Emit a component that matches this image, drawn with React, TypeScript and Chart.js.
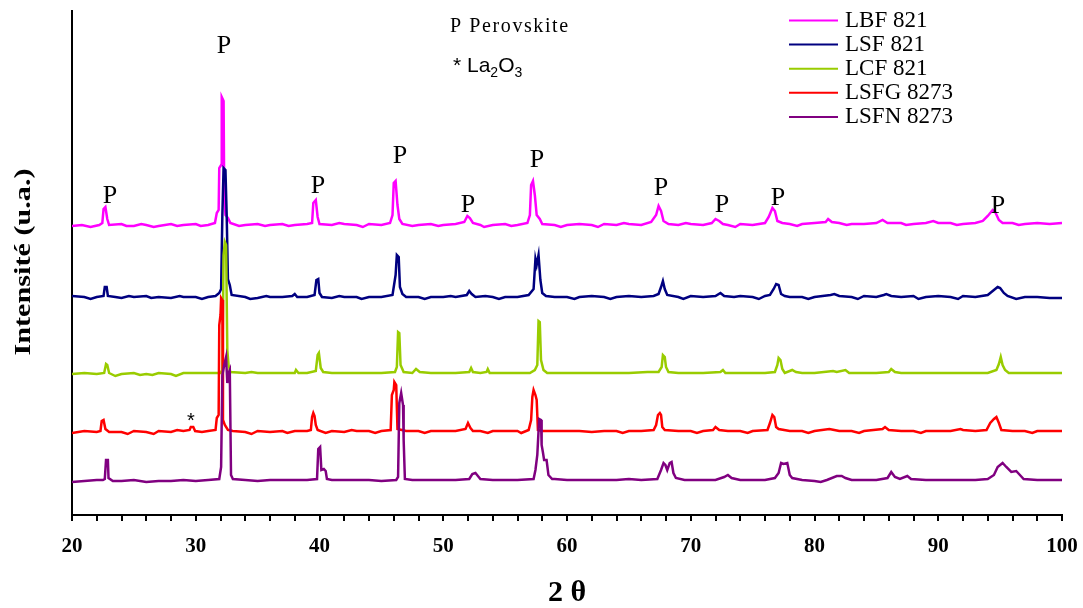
import React, { useEffect, useRef } from 'react';
import { Chart, registerables } from 'chart.js';

Chart.register(...registerables);

const SERIF = '"Liberation Serif", "Times New Roman", Times, serif';
const SANS = '"Liberation Sans", Arial, Helvetica, sans-serif';

const seriesNames = ['LBF 821', 'LSF 821', 'LCF 821', 'LSFG 8273', 'LSFN 8273'];
const seriesColors = ['#ff00ff', '#000080', '#99cc00', '#ff0000', '#800080'];

const xTickValues = [20, 22, 24, 26, 28, 30, 32, 34, 36, 38, 40, 42, 44, 46, 48, 50, 52, 54, 56, 58, 60,
  62, 64, 66, 68, 70, 72, 74, 76, 78, 80, 82, 84, 86, 88, 90, 92, 94, 96, 98, 100];

// [2θ, intensity (arbitrary units, stacked offsets)]
const lbf: [number, number][] = [
  [20, 289], [20.8, 290], [21.5, 288], [22.2, 290], [22.45, 292], [22.55, 306], [22.7, 308], [22.85, 296], [23, 290],
  [24, 291], [24.4, 289], [25, 289], [25.6, 291], [26, 290], [26.6, 288], [27, 289], [28, 291], [28.5, 289], [29, 290],
  [30, 291], [30.4, 289], [31, 290], [31.55, 292],
  [31.7, 302], [31.85, 305], [31.9, 347], [32.05, 350], [32.1, 418], [32.25, 414], [32.3, 320], [32.4, 300], [32.6, 297],
  [32.8, 292], [33.5, 289], [34, 290], [35, 291], [35.6, 289], [36, 290], [37, 291], [37.5, 289], [38, 290], [39, 291],
  [39.4, 292], [39.5, 312], [39.7, 315],
  [39.85, 298], [40, 291], [41, 290], [41.6, 292], [42, 291], [43, 290], [43.5, 288], [44, 291], [45, 290], [45.7, 292],
  [45.9, 300], [46.0, 332],
  [46.15, 334], [46.3, 310], [46.45, 296], [46.7, 291], [47.5, 289], [48, 290], [49, 291], [49.6, 289], [50, 290],
  [51, 291], [51.7, 293],
  [51.95, 299], [52.15, 297], [52.4, 292], [53, 290], [53.3, 288], [54, 290], [55, 291], [55.5, 289], [56, 290],
  [56.8, 292], [57.0, 300],
  [57.1, 330], [57.25, 334], [57.4, 320], [57.55, 300], [57.8, 296], [58.0, 291], [59, 290], [59.5, 288], [60, 290],
  [61, 291], [62, 290], [62.5, 288], [63, 291], [64, 290], [64.6, 292], [65, 291], [66, 290], [66.8, 293], [67.2, 300],
  [67.4, 309], [67.6, 304], [67.8, 294],
  [68.2, 291], [69, 290], [69.6, 292], [70, 291], [71, 290], [71.7, 292], [72.0, 296], [72.3, 294], [72.6, 291],
  [73, 290], [73.6, 288], [74, 291],
  [75, 290], [76, 292], [76.3, 298], [76.6, 307], [76.8, 304], [77.0, 294], [77.4, 292], [78, 291], [78.6, 289],
  [79, 291], [80, 292],
  [80.9, 293], [81.1, 296], [81.4, 293], [82, 292], [82.6, 290], [83, 291], [84, 291], [85, 292], [85.5, 295],
  [85.9, 292], [87, 292], [87.4, 290],
  [88, 291], [89, 292], [89.6, 294], [90, 292], [91, 292], [91.5, 290], [92, 291], [93, 292], [93.6, 294], [94.0, 299],
  [94.4, 305],
  [94.6, 303], [94.9, 295], [95.2, 292], [96, 292], [96.5, 290], [97, 291], [98, 292], [99, 291], [100, 292],
];

const lsf: [number, number][] = [
  [20, 219], [21, 218], [21.5, 216], [22, 218], [22.55, 219], [22.65, 228], [22.8, 228], [22.9, 219], [23.5, 218],
  [24, 217], [24.6, 219],
  [25, 218], [26, 219], [26.4, 217], [27, 218], [28, 217], [28.7, 219], [29, 218], [30, 218], [30.5, 216], [31, 218],
  [31.6, 219], [31.9, 222], [32.05, 226],
  [32.15, 300], [32.25, 347], [32.4, 345], [32.5, 300], [32.6, 236], [32.75, 230], [32.9, 220], [34, 218], [34.4, 216],
  [35, 217], [35.7, 219],
  [36, 218], [37, 218], [37.8, 219], [38, 221], [38.2, 218], [39, 218], [39.6, 220], [39.75, 235], [39.9, 236],
  [40.0, 222], [40.2, 218], [41, 217], [41.6, 219], [42, 218], [43, 218], [43.4, 216], [44, 218], [45, 218],
  [45.9, 220], [46.15, 240],
  [46.25, 260], [46.4, 258], [46.5, 228], [46.7, 221], [47, 218], [48, 218], [48.5, 216], [49, 218], [50, 218],
  [50.6, 219], [51, 218],
  [51.9, 220], [52.1, 224], [52.3, 221], [52.6, 218], [53.4, 219], [54, 218], [54.5, 216], [55, 218], [56, 218],
  [56.9, 220],
  [57.3, 226], [57.45, 256], [57.55, 250], [57.7, 260], [57.85, 235], [58.0, 222], [58.3, 219], [59, 218], [60, 218],
  [60.6, 216],
  [61, 218], [62, 219], [63, 218], [63.5, 216], [64, 218], [65, 219], [66, 218], [67, 219], [67.4, 221], [67.6, 228],
  [67.75, 234],
  [67.9, 226], [68.1, 220], [69, 218], [69.4, 216], [70, 219], [71, 218], [72, 219], [72.4, 222], [72.7, 219],
  [73.5, 218],
  [74, 219], [75, 218], [75.5, 216], [76, 219], [76.4, 220], [76.7, 226], [76.9, 231], [77.1, 230], [77.3, 221],
  [77.6, 219],
  [78, 218], [79, 218], [79.5, 216], [80, 218], [81.3, 220], [81.6, 221], [82, 219], [83, 218], [83.5, 216], [84, 219],
  [85, 218], [85.6, 220],
  [85.8, 221], [86.2, 219], [87, 218], [88, 219], [88.4, 216], [89, 218], [90, 219], [91, 218], [91.6, 216], [92, 219],
  [93, 218], [94.0, 220],
  [94.4, 224], [94.8, 228], [95.0, 227], [95.3, 222], [95.6, 219], [96.3, 216], [97, 218], [98, 218], [99, 217],
  [100, 217],
];

const lcf: [number, number][] = [
  [20, 141], [21, 142], [22, 141], [22.6, 142], [22.75, 151], [22.85, 150], [23.0, 142], [23.5, 139], [24, 141],
  [25, 142], [25.5, 140], [26, 141], [26.5, 140], [27, 142], [28, 141], [28.4, 139], [29, 142], [30, 142], [31, 142],
  [32.0, 142], [32.15, 145],
  [32.25, 260], [32.35, 273], [32.45, 270], [32.55, 165], [32.65, 150], [32.8, 143], [34, 142], [34.5, 143], [35, 142],
  [36, 142], [37, 142], [38.0, 142], [38.1, 145], [38.3, 142], [39, 142], [39.7, 144], [39.85, 160], [39.95, 162],
  [40.1, 147], [40.3, 143], [41, 142], [42, 142], [43, 142], [44, 142], [45, 142], [46.1, 143], [46.25, 148],
  [46.35, 183], [46.45, 182], [46.55, 150], [46.8, 143], [47.5, 142], [47.8, 146], [48.1, 143], [49, 142], [50, 142],
  [51, 142], [52.1, 143], [52.25, 147], [52.4, 143], [53, 142], [53.5, 143], [53.6, 146], [53.75, 142], [55, 142],
  [56, 142], [57.0, 142], [57.4, 145], [57.6, 150], [57.7, 194], [57.8, 193], [57.9, 155], [58.1, 145], [58.4, 142],
  [59, 142], [60, 142], [61, 142], [62, 142], [63, 142], [64, 142], [65, 142], [66.5, 143], [67.4, 143], [67.65, 148],
  [67.75, 160], [67.9, 158], [68.0, 148], [68.2, 143], [69, 142], [70, 142], [71, 142], [72.4, 143], [72.6, 145],
  [72.8, 142], [74, 142], [75, 142], [76, 142], [76.8, 143], [77.0, 150], [77.1, 157], [77.25, 155], [77.4, 146],
  [77.6, 142], [78.2, 145], [78.5, 143], [79, 142], [80, 142], [81.5, 144], [81.8, 143], [82.5, 145], [82.8, 142],
  [84, 142], [85, 142], [86.0, 143], [86.2, 146], [86.5, 143], [87, 142], [88, 142], [89, 142], [90, 142], [91, 142],
  [92, 142], [93, 142], [94.0, 142], [94.7, 145], [94.9, 151], [95.05, 158], [95.2, 150], [95.4, 145], [95.7, 142],
  [97, 142], [98, 142], [99, 142], [100, 142],
];

const lsfg: [number, number][] = [
  [20, 82], [21, 84], [22, 83], [22.3, 84], [22.4, 94], [22.55, 95], [22.7, 86], [23, 83], [24, 83], [24.5, 81],
  [25, 84], [26, 83], [26.6, 81],
  [27, 84], [28, 83], [28.5, 85], [29, 84], [29.5, 85], [29.6, 88], [29.8, 88], [29.95, 84], [30.5, 83], [31, 84],
  [31.6, 85],
  [31.7, 97], [31.85, 100], [31.9, 190], [32.0, 200], [32.05, 217], [32.15, 215], [32.2, 95], [32.35, 90], [32.6, 85],
  [33, 84], [34, 83], [34.5, 81], [35, 84], [36, 83], [37, 84], [37.4, 82], [38, 84], [39, 84], [39.3, 85], [39.4, 98],
  [39.5, 102], [39.6, 99],
  [39.7, 90], [39.85, 85], [40.5, 82], [41, 84], [42, 83], [42.6, 85], [43, 84], [44, 84], [44.5, 82], [45, 84],
  [45.75, 85], [45.85, 120],
  [46.0, 125], [46.05, 133], [46.2, 130], [46.3, 86], [47, 84], [48, 84], [48.5, 82], [49, 84], [50, 84], [51, 84],
  [51.8, 86], [52.0, 92], [52.2, 87], [52.4, 84], [53, 84], [53.6, 82], [54, 84], [55, 84], [56, 84], [56.3, 82],
  [56.9, 85], [57.1, 95],
  [57.2, 118], [57.3, 125], [57.45, 120], [57.55, 115], [57.65, 85], [58, 84], [59, 84], [60, 84], [61, 84], [62, 83],
  [63, 84], [64, 84], [64.5, 82], [65, 84], [66, 84], [67, 85], [67.2, 90], [67.35, 100], [67.5, 102], [67.6, 100],
  [67.7, 88],
  [67.9, 85], [69, 84], [70, 84], [70.5, 82], [71, 84], [71.8, 85], [72.0, 88], [72.3, 85], [73, 84], [74, 84],
  [74.6, 82], [75, 84], [76.2, 85],
  [76.4, 92], [76.6, 100], [76.75, 98], [76.9, 88], [77.1, 86], [78, 84], [79, 84], [79.5, 82], [80, 84], [81.2, 86],
  [81.6, 85],
  [82, 84], [83, 84], [83.6, 82], [84, 84], [85.5, 86], [85.7, 88], [86, 85], [87, 84], [88, 84], [88.6, 82], [89, 84],
  [90, 84], [91, 84],
  [91.8, 86], [92, 85], [93, 84], [93.9, 85], [94.2, 92], [94.5, 96], [94.7, 98], [94.9, 92], [95.1, 85], [96, 84],
  [97, 84], [97.6, 82], [98, 84], [99, 84], [100, 84],
];

const lsfn: [number, number][] = [
  [20, 33], [21, 34], [22, 35], [22.5, 35], [22.65, 36], [22.75, 55], [22.9, 55], [22.95, 37], [23.3, 34], [24, 34],
  [25, 35], [26, 33], [27, 34], [28, 34], [29, 35], [30, 34], [31, 35], [31.9, 36], [32.05, 48], [32.15, 140],
  [32.3, 150], [32.45, 158], [32.55, 132], [32.65, 142], [32.75, 145], [32.85, 40], [33, 36], [34, 35], [35, 34],
  [36, 35], [37, 35], [38, 35], [39, 35], [39.8, 36], [39.9, 66], [40.05, 68], [40.15, 45], [40.35, 46], [40.5, 44],
  [40.6, 36], [41, 35], [42, 35], [43, 35], [44, 35], [45, 34], [46.2, 35], [46.35, 38], [46.45, 112], [46.6, 122],
  [46.75, 110], [46.8, 75], [46.9, 36], [47.5, 35], [48, 35], [49, 35], [50, 35], [51, 35], [52.1, 36], [52.35, 41],
  [52.6, 42], [52.8, 39], [53, 36], [54, 35], [55, 35], [56, 35], [57.3, 36], [57.45, 45], [57.6, 60], [57.75, 96],
  [57.9, 95], [57.95, 70], [58.05, 63], [58.15, 55], [58.35, 55], [58.5, 40], [58.8, 36], [59, 36], [60, 35], [61, 35],
  [62, 35], [63, 35], [64, 35], [65, 36], [66, 35], [67.3, 36], [67.6, 45], [67.8, 52], [67.95, 50], [68.1, 45],
  [68.3, 52], [68.45, 53], [68.6, 42], [68.8, 37], [69.5, 35], [70, 35], [71, 35], [72, 35], [72.7, 38], [73, 40],
  [73.3, 37], [74, 35], [75, 35], [76, 35], [76.8, 37], [77.1, 42], [77.3, 52], [77.5, 51], [77.8, 52], [78.0, 40],
  [78.2, 37], [79, 35], [80, 34], [80.5, 33], [81, 35], [81.8, 39], [82.2, 39], [82.5, 37], [83, 35], [84, 35], [85, 35],
  [85.9, 37], [86.2, 43], [86.5, 38], [86.9, 36], [87.5, 39], [87.8, 36], [89, 35], [90, 35], [91, 35], [92, 35],
  [93, 35], [94.0, 36], [94.5, 40], [94.8, 48], [95.2, 52], [95.5, 48], [95.9, 43], [96.3, 44], [96.6, 40], [96.9, 36],
  [98, 35], [99, 35], [100, 35],
];

const seriesData = [lbf, lsf, lcf, lsfg, lsfn];

// "P" (perovskite) peak markers: 2θ position and baseline height
const pMarkX = [23.07, 32.28, 39.88, 46.5, 52.0, 57.58, 67.6, 72.53, 77.05, 94.83];
const pMarkY = [312, 462, 322, 352, 303, 348, 320, 303, 310, 302];
// "*" La2O3 marker
const starMarkX = [29.6];
const starMarkY = [88];

const annotationPlugin = {
  id: 'xrdAnnotations',
  afterDatasetsDraw(chart: any) {
    const { ctx, scales } = chart;
    const xs = scales.x;
    const ys = scales.y;
    ctx.save();
    ctx.fillStyle = '#000';

    // P markers
    ctx.font = `26px ${SERIF}`;
    ctx.textAlign = 'center';
    ctx.textBaseline = 'alphabetic';
    pMarkX.forEach((v, i) => {
      ctx.fillText('P', xs.getPixelForValue(v), ys.getPixelForValue(pMarkY[i]));
    });

    // * markers
    ctx.font = `20px ${SANS}`;
    starMarkX.forEach((v, i) => {
      ctx.fillText('*', xs.getPixelForValue(v), ys.getPixelForValue(starMarkY[i]));
    });

    // key text
    ctx.textAlign = 'left';
    ctx.font = `20px ${SERIF}`;
    try { (ctx as any).letterSpacing = '1.6px'; } catch (e) { /* ignore */ }
    ctx.fillText('P Perovskite', 450, 32);
    try { (ctx as any).letterSpacing = '0px'; } catch (e) { /* ignore */ }
    ctx.font = `21px ${SANS}`;
    let cx = 453;
    const base = 72;
    ctx.fillText('* La', cx, base);
    cx += ctx.measureText('* La').width;
    ctx.font = `14px ${SANS}`;
    ctx.fillText('2', cx, base + 5);
    cx += ctx.measureText('2').width;
    ctx.font = `21px ${SANS}`;
    ctx.fillText('O', cx, base);
    cx += ctx.measureText('O').width;
    ctx.font = `14px ${SANS}`;
    ctx.fillText('3', cx, base + 5);

    // legend
    ctx.font = `23px ${SERIF}`;
    ctx.textBaseline = 'middle';
    seriesNames.forEach((name, i) => {
      const yy = 20.5 + i * 24.1;
      ctx.strokeStyle = seriesColors[i];
      ctx.lineWidth = 2;
      ctx.beginPath();
      ctx.moveTo(789, yy);
      ctx.lineTo(838, yy);
      ctx.stroke();
      ctx.fillStyle = '#000';
      ctx.fillText(name, 845, yy);
    });

    // y axis title (stretched along reading direction)
    ctx.save();
    ctx.translate(24, 262);
    ctx.rotate(-Math.PI / 2);
    ctx.font = `bold 24px ${SERIF}`;
    ctx.textAlign = 'center';
    ctx.textBaseline = 'middle';
    const title = 'Intensité (u.a.)';
    const w = ctx.measureText(title).width;
    ctx.scale(187 / w, 1);
    ctx.fillText(title, 0, 0);
    ctx.restore();

    ctx.restore();
  },
};

export default function App() {
  const canvasRef = useRef<HTMLCanvasElement | null>(null);

  useEffect(() => {
    if (!canvasRef.current) return;
    const chart = new Chart(canvasRef.current, {
      type: 'line',
      data: {
        datasets: seriesData.map((d, i) => ({
          label: seriesNames[i],
          data: d.map(([x, y]) => ({ x, y })),
          borderColor: seriesColors[i],
          backgroundColor: seriesColors[i],
          borderWidth: 2.5,
          pointRadius: 0,
          tension: 0,
          fill: false,
          order: seriesData.length - 1 - i,
        })),
      },
      options: {
        animation: false,
        responsive: true,
        maintainAspectRatio: false,
        events: [],
        layout: { padding: { left: 0, top: 11, right: 21, bottom: 0 } },
        plugins: {
          legend: { display: false },
          tooltip: { enabled: false },
          title: { display: false },
        },
        scales: {
          x: {
            type: 'linear',
            min: 20,
            max: 100,
            afterBuildTicks: (scale: any) => {
              scale.ticks = xTickValues.map((v) => ({ value: v }));
            },
            afterFit: (scale: any) => {
              scale.height = 93;
              scale.paddingLeft = 0;
              scale.paddingRight = 0;
            },
            ticks: {
              autoSkip: false,
              maxRotation: 0,
              minRotation: 0,
              padding: 13,
              color: '#000',
              font: { family: SERIF, size: 21, weight: 'bold' },
              callback: (v: any) => (Number(v) % 10 === 0 ? String(v) : ''),
            },
            grid: {
              display: true,
              drawOnChartArea: false,
              drawTicks: true,
              tickLength: 6,
              color: '#000',
              lineWidth: 2,
            },
            border: { display: true, color: '#000', width: 2 },
            title: {
              display: true,
              text: '2 θ',
              color: '#000',
              font: { family: SERIF, size: 30, weight: 'bold', lineHeight: 1 },
              padding: 0,
            },
          },
          y: {
            type: 'linear',
            min: 0,
            max: 504,
            afterFit: (scale: any) => {
              scale.width = 72;
            },
            ticks: { display: false },
            grid: { display: false, drawTicks: false },
            border: { display: true, color: '#000', width: 2 },
            title: { display: false },
          },
        },
      },
      plugins: [annotationPlugin],
    } as any);
    return () => chart.destroy();
  }, []);

  return (
    <div style={{ position: 'fixed', left: 0, top: 0, width: 1083, height: 608, background: '#fff' }}>
      <canvas ref={canvasRef} />
    </div>
  );
}
